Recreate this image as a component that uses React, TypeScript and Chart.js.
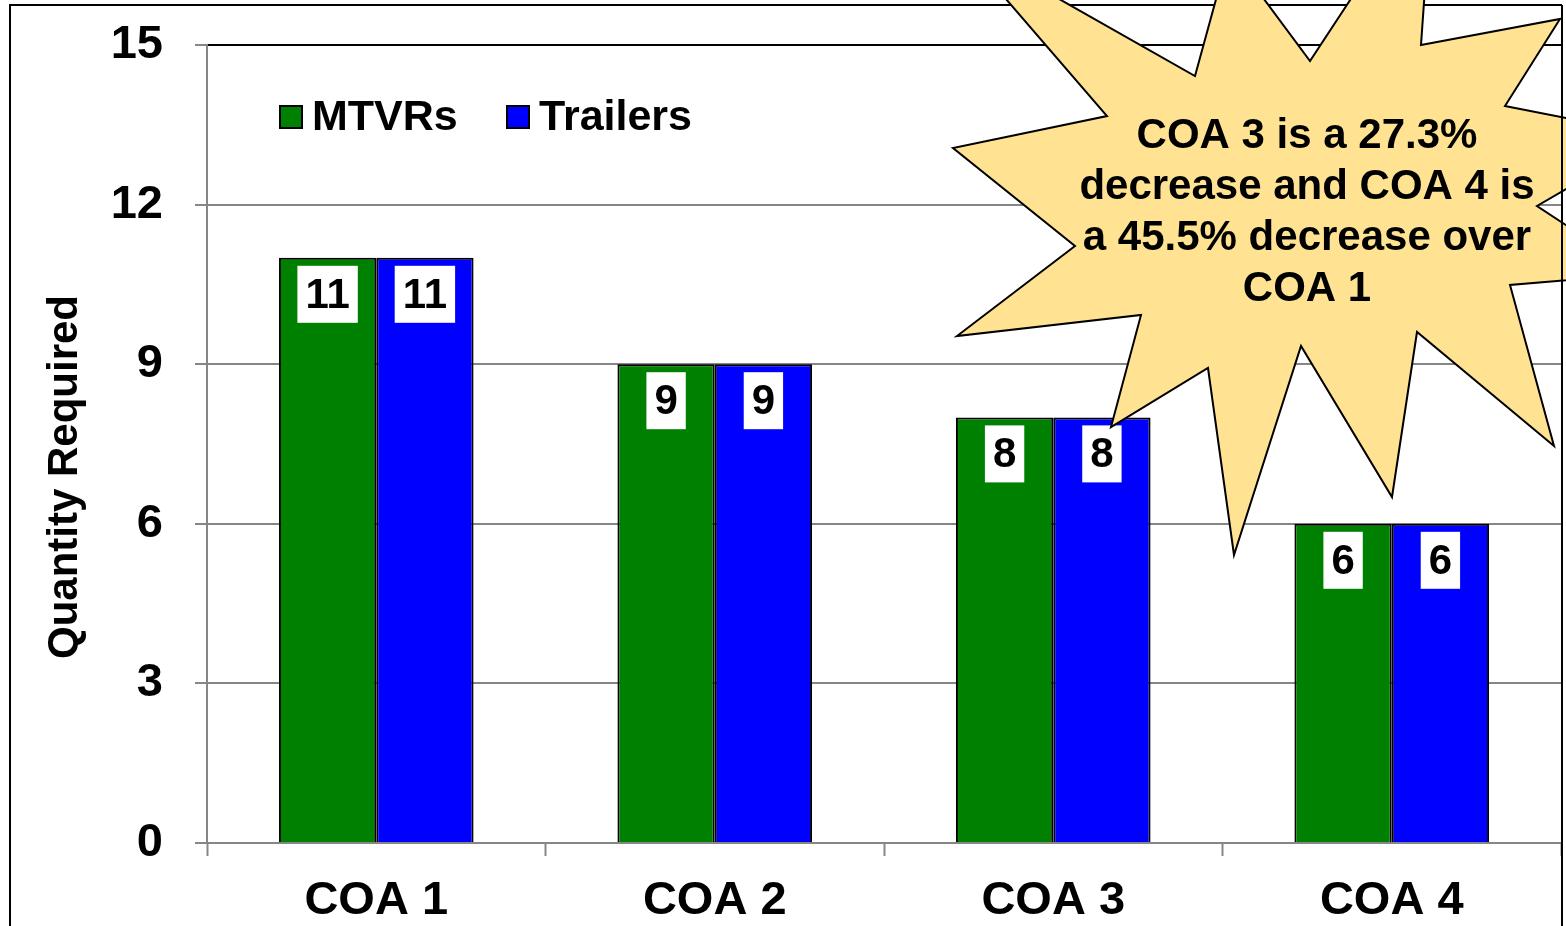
import React, { useEffect, useRef } from "react";
import { Chart, registerables } from "chart.js";

Chart.register(...registerables);

const categories = ["COA 1", "COA 2", "COA 3", "COA 4"];
const seriesNames = ["MTVRs", "Trailers"];
const mtvrValues = [11, 9, 8, 6];
const trailerValues = [11, 9, 8, 6];
const seriesColors = ["#008000", "#0000FF"];
const yMin = 0;
const yMax = 15;
const yStep = 3;
const yTitle = "Quantity Required";
const calloutLines = [
  "COA 3 is a 27.3%",
  "decrease and COA 4 is",
  "a 45.5% decrease over",
  "COA 1",
];

// Decorative starburst callout outline (canvas pixels)
const STAR_SHAPE: [number, number][] = [
  [955, -60], [1195, 76], [1229, -48], [1310, 61], [1433, -126], [1421, 45],
  [1560, 19], [1505, 106], [1657, 136], [1537, 206], [1640, 274], [1510, 285],
  [1554, 446], [1417, 332], [1392, 497], [1301, 346], [1234, 555], [1208, 368],
  [1111, 427], [1141, 315], [957, 336], [1075, 246], [953, 148], [1107, 116],
];

const FONT = '"Liberation Sans", Arial, Helvetica, sans-serif';

const overlayPlugin = {
  id: "overlay",
  afterDraw(chart: any) {
    const ctx = chart.ctx as CanvasRenderingContext2D;
    ctx.save();

    // outer frame (left & top)
    ctx.strokeStyle = "#000";
    ctx.lineWidth = 2;
    ctx.beginPath();
    ctx.moveTo(10, 940);
    ctx.lineTo(10, 5);
    ctx.lineTo(1562, 5);
    ctx.stroke();

    // data labels
    ctx.font = `bold 42px ${FONT}`;
    ctx.textAlign = "center";
    ctx.textBaseline = "middle";
    chart.data.datasets.forEach((ds: any, di: number) => {
      const meta = chart.getDatasetMeta(di);
      meta.data.forEach((el: any, i: number) => {
        const txt = String(ds.data[i]);
        const w = ctx.measureText(txt).width + 16;
        const h = 57;
        const top = el.y + 8;
        ctx.fillStyle = "#fff";
        ctx.fillRect(el.x - w / 2, top, w, h);
        ctx.fillStyle = "#000";
        ctx.fillText(txt, el.x, top + h / 2 + 2);
      });
    });

    // legend
    ctx.font = `bold 43px ${FONT}`;
    ctx.textAlign = "left";
    ctx.textBaseline = "middle";
    const legendX = [280, 507];
    chart.data.datasets.forEach((ds: any, di: number) => {
      const x = legendX[di];
      ctx.fillStyle = ds.backgroundColor;
      ctx.fillRect(x, 106, 22, 22);
      ctx.lineWidth = 2;
      ctx.strokeStyle = "#000";
      ctx.strokeRect(x, 106, 22, 22);
      ctx.fillStyle = "#000";
      ctx.fillText(ds.label, x + 32, 118);
    });

    // y axis title
    ctx.save();
    ctx.translate(77, 477);
    ctx.rotate(-Math.PI / 2);
    ctx.font = `bold 42px ${FONT}`;
    ctx.textAlign = "center";
    ctx.textBaseline = "alphabetic";
    ctx.fillStyle = "#000";
    ctx.fillText(yTitle, 0, 0);
    ctx.restore();

    // starburst callout
    ctx.beginPath();
    STAR_SHAPE.forEach(([x, y], i) => (i === 0 ? ctx.moveTo(x, y) : ctx.lineTo(x, y)));
    ctx.closePath();
    ctx.fillStyle = "#FFE393";
    ctx.fill();
    ctx.lineWidth = 2;
    ctx.strokeStyle = "#000";
    ctx.stroke();

    ctx.font = `bold 42px ${FONT}`;
    ctx.textAlign = "center";
    ctx.textBaseline = "middle";
    ctx.fillStyle = "#000";
    calloutLines.forEach((line, i) => {
      ctx.fillText(line, 1307, 136 + i * 51.3);
    });

    // outer frame right edge
    ctx.strokeStyle = "#000";
    ctx.lineWidth = 2;
    ctx.beginPath();
    ctx.moveTo(1562, 5);
    ctx.lineTo(1562, 940);
    ctx.stroke();

    ctx.restore();
  },
};

export default function App() {
  const ref = useRef<HTMLCanvasElement | null>(null);

  useEffect(() => {
    if (!ref.current) return;
    const tickFont = { family: FONT, size: 47, weight: "bold" as const };
    const chart = new Chart(ref.current, {
      type: "bar",
      data: {
        labels: categories,
        datasets: [
          {
            label: seriesNames[0],
            data: mtvrValues,
            backgroundColor: seriesColors[0],
            borderColor: "#000",
            borderWidth: 2,
            categoryPercentage: 0.575,
            barPercentage: 1.0,
          },
          {
            label: seriesNames[1],
            data: trailerValues,
            backgroundColor: seriesColors[1],
            borderColor: "#000",
            borderWidth: 2,
            categoryPercentage: 0.575,
            barPercentage: 1.0,
          },
        ],
      },
      plugins: [overlayPlugin],
      options: {
        responsive: false,
        animation: false,
        devicePixelRatio: 1,
        layout: { padding: { top: 45, right: 5, left: 0, bottom: 0 } },
        plugins: {
          legend: { display: false },
          tooltip: { enabled: false },
          title: { display: false },
        },
        scales: {
          x: {
            grid: {
              display: true,
              drawOnChartArea: false,
              drawTicks: true,
              tickLength: 13,
              tickColor: "#868686",
              tickWidth: 2,
              offset: true,
            },
            border: { color: "#868686", width: 2 },
            ticks: { font: tickFont, color: "#000", padding: 17 },
            afterFit: (s: any) => {
              s.height = 83;
              s.paddingLeft = 0;
              s.paddingRight = 0;
            },
          },
          y: {
            min: yMin,
            max: yMax,
            ticks: { stepSize: yStep, font: tickFont, color: "#000", padding: 32 },
            grid: {
              color: (c: any) => (c.tick && c.tick.value === yMax ? "#000" : "#868686"),
              lineWidth: 2,
              tickLength: 12,
              tickColor: "#868686",
              tickWidth: 2,
            },
            border: { color: "#868686", width: 2 },
            afterFit: (s: any) => {
              s.width = 207;
              s.paddingTop = 0;
              s.paddingBottom = 0;
            },
          },
        },
      },
    });
    return () => chart.destroy();
  }, []);

  return (
    <div style={{ position: "fixed", left: 0, top: 0, width: 1566, height: 926, background: "#fff" }}>
      <canvas ref={ref} width={1566} height={926} />
    </div>
  );
}
